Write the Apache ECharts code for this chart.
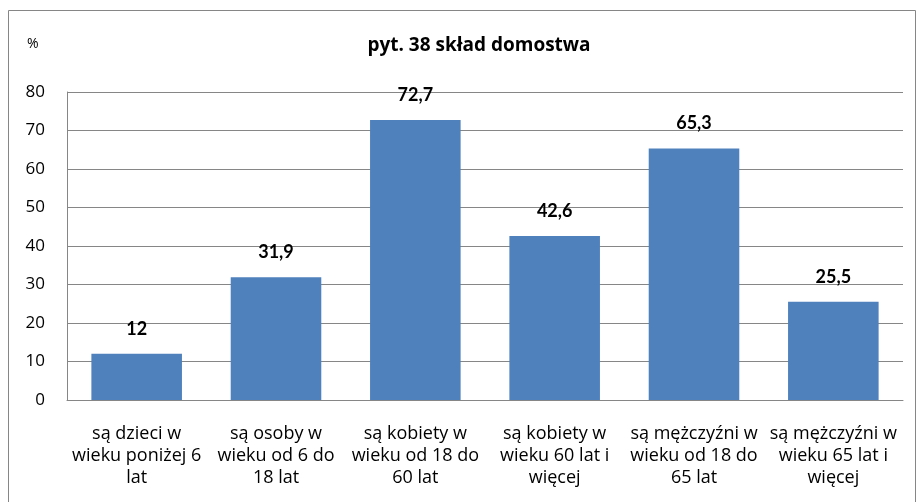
<!DOCTYPE html>
<html>
<head>
<meta charset="utf-8">
<script src="https://cdn.jsdelivr.net/npm/echarts@6/dist/echarts.min.js"></script>
<style>
  html, body { margin: 0; padding: 0; background: #fff; }
  #chart { width: 918px; height: 502px; }
</style>
</head>
<body>
<div id="chart"></div>
<script>
const categories = [
  'są dzieci w\nwieku poniżej 6\nlat',
  'są osoby w\nwieku od 6 do\n18 lat',
  'są kobiety w\nwieku od 18 do\n60 lat',
  'są kobiety w\nwieku 60 lat i\nwięcej',
  'są mężczyźni w\nwieku od 18 do\n65 lat',
  'są mężczyźni w\nwieku 65 lat i\nwięcej'
]
const values = [12, 31.9, 72.7, 42.6, 65.3, 25.5]
const yTicks = { min: 0, max: 80, interval: 10 }

const font = '"Open Sans", Lato, sans-serif'
const chart = echarts.init(document.getElementById('chart'))
chart.setOption({
  animation: false,
  graphic: [
    {
      type: 'rect',
      shape: { x: 8.5, y: 10.5, width: 907, height: 500 },
      style: { fill: 'none', stroke: '#868686', lineWidth: 1 }
    },
    {
      type: 'text',
      left: 27, top: 37,
      style: { text: '%', font: '14px ' + font, fill: '#000' }
    }
  ],
  title: {
    text: 'pyt. 38 skład domostwa',
    left: 474, top: 31,
    textAlign: 'center',
    textStyle: { fontFamily: font, fontSize: 19, fontWeight: 'bold', color: '#000' }
  },
  grid: { left: 67, right: 15, top: 92, bottom: 102 },
  xAxis: {
    type: 'category',
    data: categories,
    axisLine: { show: true, lineStyle: { color: '#868686' } },
    axisTick: { show: false },
    axisLabel: {
      interval: 0,
      margin: 23,
      fontFamily: font, fontSize: 18, color: '#000', lineHeight: 22
    }
  },
  yAxis: {
    type: 'value',
    min: yTicks.min, max: yTicks.max, interval: yTicks.interval,
    axisLine: { show: true, lineStyle: { color: '#868686' } },
    axisTick: { show: false },
    splitLine: { show: true, lineStyle: { color: '#868686' } },
    axisLabel: { margin: 22, fontFamily: font, fontSize: 17, color: '#000' }
  },
  series: [{
    type: 'bar',
    data: values,
    barWidth: '65%',
    itemStyle: { color: '#4F81BD' },
    label: {
      show: true,
      position: 'top',
      distance: 16,
      fontFamily: 'Lato, sans-serif', fontSize: 18, fontWeight: 'bold', color: '#000',
      formatter: (p) => String(p.value).replace('.', ',')
    }
  }]
})
</script>
</body>
</html>
